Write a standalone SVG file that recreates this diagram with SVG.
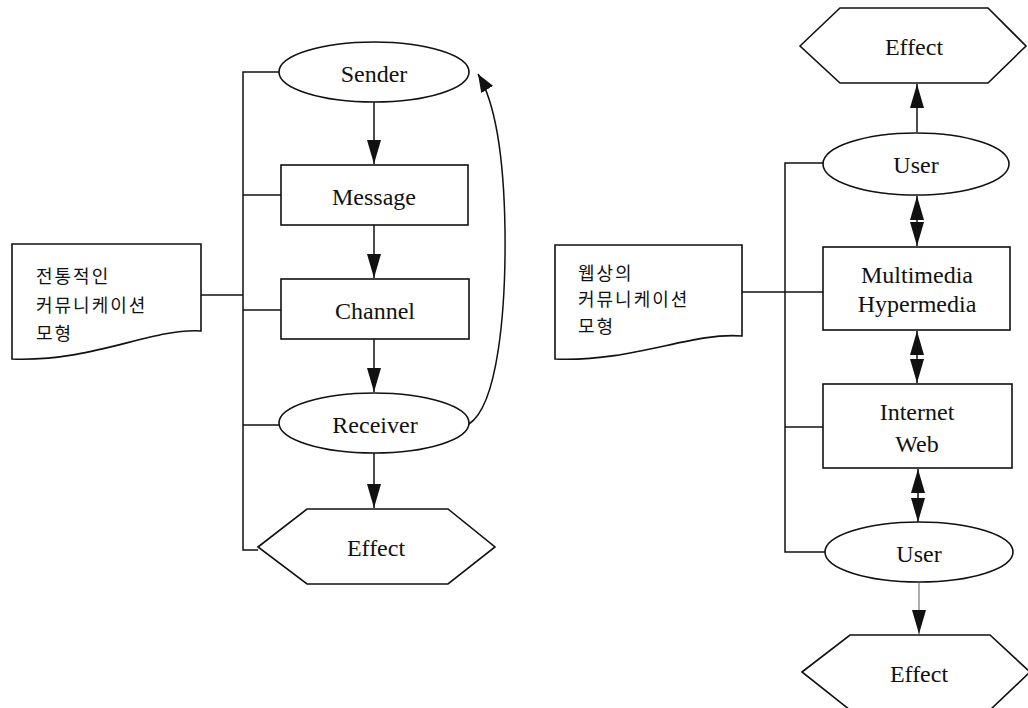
<svg xmlns="http://www.w3.org/2000/svg" width="1028" height="708" viewBox="0 0 1028 708">
<style>
.sh{fill:#fff;stroke:#111;stroke-width:1.6}
.ln{fill:none;stroke:#111;stroke-width:1.5}
.t{font-family:"Liberation Serif","Times New Roman",serif;font-size:24px;fill:#111;text-anchor:middle}
.k{font-family:"Noto Sans CJK KR","Noto Sans",sans-serif;font-size:18px;letter-spacing:2px;fill:#111}
</style>
<defs>
<marker id="ah" markerUnits="userSpaceOnUse" markerWidth="26" markerHeight="14" refX="24" refY="7" orient="auto-start-reverse">
<path d="M0,0 L24,7 L0,14 Z" fill="#111"/>
</marker>
<marker id="ahs" markerUnits="userSpaceOnUse" markerWidth="20" markerHeight="14" refX="18" refY="7" orient="auto">
<path d="M0,0 L18,7 L0,14 Z" fill="#111"/>
</marker>
</defs>
<g id="connectors">
<path class="ln" d="M280,72 H243 V550 H258"/>
<path class="ln" d="M243,195 H281"/>
<path class="ln" d="M243,310 H281"/>
<path class="ln" d="M201,295 H243"/>
<path class="ln" d="M243,425 H280"/>
<path class="ln" d="M374,102 V164" marker-end="url(#ah)"/>
<path class="ln" d="M374,225 V278" marker-end="url(#ah)"/>
<path class="ln" d="M374,339 V392" marker-end="url(#ah)"/>
<path class="ln" d="M374,453 V508" marker-end="url(#ah)"/>
<path class="ln" d="M469,424 C498,405 506,310 505,230 C504,160 496,104 478,74" marker-end="url(#ahs)"/>
<path class="ln" d="M823,163 H785 V552 H825"/>
<path class="ln" d="M742,292 H823"/>
<path class="ln" d="M785,427 H823"/>
<path class="ln" d="M917,132 V84" marker-end="url(#ah)"/>
<path class="ln" d="M917,196 V246" marker-start="url(#ah)" marker-end="url(#ah)"/>
<path class="ln" d="M917,331 V383" marker-start="url(#ah)" marker-end="url(#ah)"/>
<path class="ln" d="M918,469 V522" marker-start="url(#ah)" marker-end="url(#ah)"/>
<path d="M919,583 V634" fill="none" stroke="#777" stroke-width="1.2" marker-end="url(#ah)"/>
</g>
<g id="doc-left">
<path class="sh" d="M12,244 H201 V331 C150,328 95,362 12,359 Z"/>
<text class="k" x="36" y="283">전통적인</text>
<text class="k" x="36" y="312">커뮤니케이션</text>
<text class="k" x="36" y="340">모형</text>
</g>
<g id="sender"><ellipse class="sh" cx="374" cy="72" rx="95" ry="30"/><text class="t" x="374" y="82">Sender</text></g>
<g id="message"><rect class="sh" x="281" y="165" width="187" height="60"/><text class="t" x="374" y="205">Message</text></g>
<g id="channel"><rect class="sh" x="281" y="279" width="188" height="60"/><text class="t" x="375" y="319">Channel</text></g>
<g id="receiver"><ellipse class="sh" cx="374" cy="423" rx="95" ry="30"/><text class="t" x="375" y="433">Receiver</text></g>
<g id="effect-left"><polygon class="sh" points="258,547 307,509 448,509 495,547 448,584 307,584"/><text class="t" x="376" y="556">Effect</text></g>
<g id="doc-right">
<path class="sh" d="M555,245 H742 V336 C690,332 635,362 555,359 Z"/>
<text class="k" x="578" y="280">웹상의</text>
<text class="k" x="578" y="306">커뮤니케이션</text>
<text class="k" x="578" y="333">모형</text>
</g>
<g id="effect-top"><polygon class="sh" points="800,46 840,8 988,8 1026,46 988,83 840,83"/><text class="t" x="914" y="55">Effect</text></g>
<g id="user-top"><ellipse class="sh" cx="916" cy="164" rx="93" ry="31"/><text class="t" x="916" y="173">User</text></g>
<g id="multimedia"><rect class="sh" x="823" y="247" width="187" height="83"/><text class="t" x="917" y="283">Multimedia</text><text class="t" x="917" y="312">Hypermedia</text></g>
<g id="internet"><rect class="sh" x="823" y="384" width="189" height="84"/><text class="t" x="917" y="420">Internet</text><text class="t" x="917" y="452">Web</text></g>
<g id="user-bottom"><ellipse class="sh" cx="919" cy="552" rx="94" ry="30"/><text class="t" x="919" y="562">User</text></g>
<g id="effect-bottom"><polygon class="sh" points="802,672 850,635 990,635 1030,672 990,710 850,710"/><text class="t" x="919" y="682">Effect</text></g>
</svg>
